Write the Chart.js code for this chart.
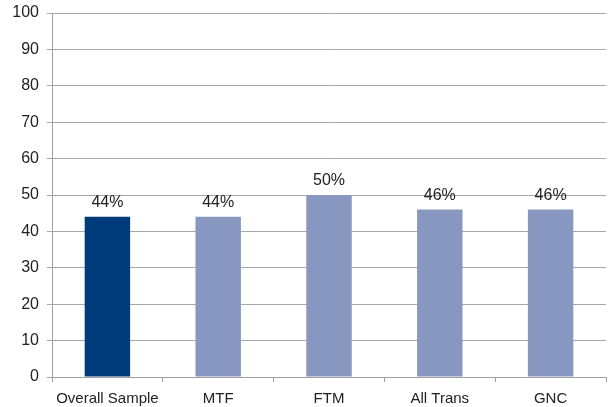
<!DOCTYPE html>
<html>
  <head>
    <meta charset="UTF-8" />
    <title>Bar chart</title>
    <script src="https://cdn.jsdelivr.net/npm/chart.js"></script>
    <style>
      html, body { margin: 0; padding: 0; background: #ffffff; }
      .wrap { width: 610px; height: 407px; }
    </style>
  </head>
  <body>
    <div class="wrap"><canvas id="myChart" width="610" height="407"></canvas></div>
    <script>
      const categories = ["Overall Sample", "MTF", "FTM", "All Trans", "GNC"];
      const values = [44, 44, 50, 46, 46];
      const barColors = ["#003b7b", "#8797c0", "#8797c0", "#8797c0", "#8797c0"];
      const FONT = "'Liberation Sans Narrow', 'Liberation Sans', Arial, sans-serif";

      const labelPlugin = {
        id: "barLabels",
        afterDatasetsDraw(chart) {
          const ctx = chart.ctx;
          const meta = chart.getDatasetMeta(0);
          ctx.save();
          ctx.font = "16px " + FONT;
          ctx.fillStyle = "#222222";
          ctx.textAlign = "center";
          ctx.textBaseline = "bottom";
          meta.data.forEach((bar, i) => {
            ctx.fillText(values[i] + "%", bar.x, bar.y - 6);
          });
          ctx.restore();
        }
      };

      new Chart(document.getElementById("myChart"), {
        type: "bar",
        data: {
          labels: categories,
          datasets: [{
            data: values,
            backgroundColor: barColors,
            categoryPercentage: 1,
            barPercentage: 0.41
          }]
        },
        options: {
          responsive: false,
          animation: false,
          layout: { padding: { top: 13, right: 4, left: 0, bottom: 0 } },
          plugins: { legend: { display: false }, tooltip: { enabled: false } },
          scales: {
            x: {
              grid: { drawOnChartArea: false, color: "#a0a0a0", tickLength: 5 },
              border: { color: "#a0a0a0" },
              ticks: { color: "#222222", font: { family: FONT, size: 15 }, padding: 8, maxRotation: 0, autoSkip: false },
              afterFit(s) { s.height = 30; }
            },
            y: {
              min: 0,
              max: 100,
              ticks: { stepSize: 10, color: "#222222", font: { family: FONT, size: 16 }, padding: 8 },
              grid: { color: "#a8a8a8", tickLength: 5 },
              border: { color: "#a0a0a0" },
              afterFit(s) { s.width = 52; s.paddingTop = 0; s.paddingBottom = 0; }
            }
          }
        },
        plugins: [labelPlugin]
      });
    </script>
  </body>
</html>
